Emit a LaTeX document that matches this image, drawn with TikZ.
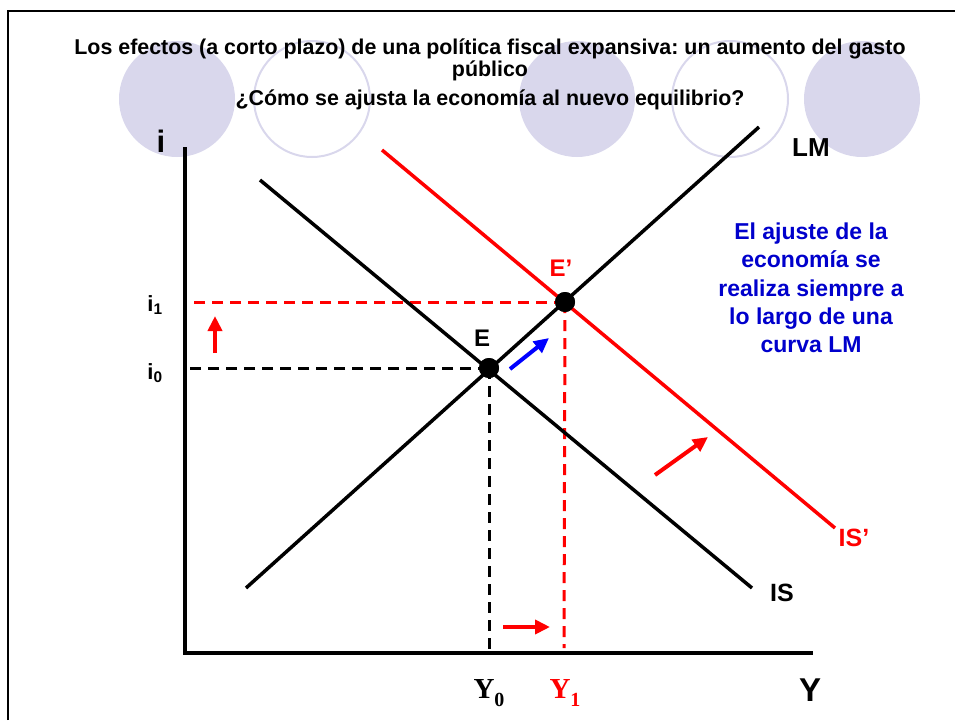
\documentclass[tikz,border=0pt]{standalone}
\usepackage{fontspec}
\setmainfont{Liberation Sans}
\newfontfamily\timesfont{Liberation Serif}
\usetikzlibrary{arrows.meta}
\frenchspacing
\definecolor{burbuja}{RGB}{217,215,236}
\definecolor{azul}{RGB}{0,0,204}
\tikzstyle{curva} = [line width=3.5pt]
\tikzstyle{guia} = [line width=3pt, dash pattern=on 11pt off 7pt]
\tikzstyle{flecha} = [line width=4pt, -{Triangle[length=15pt,width=14pt]}]
\tikzstyle{punto} = [circle, fill=black, inner sep=0pt, minimum size=20pt]
\tikzstyle{etiq} = [inner sep=0pt]
\newcommand{\tam}[1]{\bfseries\fontsize{#1}{#1}\selectfont}
\newcommand{\yval}[1]{{\timesfont\bfseries Y\raisebox{-0.3em}{\fontsize{20}{20}\selectfont #1}}}

\begin{document}
\begin{tikzpicture}[x=1pt, y=-1pt]
        \useasboundingbox (0,0) rectangle (955,720);
        \draw[line width=2pt] (8,720) -- (8,11) -- (955,11);

        \foreach \cx in {177,577,862}
            \fill[burbuja] (\cx,99) circle (58pt);
        \foreach \cx in {312,730}
            \draw[burbuja, line width=2pt] (\cx,99) circle (58pt);

        \node[etiq, align=center, font=\bfseries\fontsize{21.4}{22}\selectfont] (titulo) at (490,60)
            {Los efectos (a corto plazo) de una política fiscal expansiva: un aumento del gasto\\público};
        \node[etiq, font=\bfseries\fontsize{21.4}{22}\selectfont] (pregunta) at (490,100)
            {¿Cómo se ajusta la economía al nuevo equilibrio?};

        \coordinate (origen) at (185,653);
        \coordinate (ejei) at (185,147);
        \coordinate (ejey) at (813,653);
        \coordinate (LMa) at (246,588);
        \coordinate (LMb) at (759,127);
        \coordinate (ISa) at (260,180);
        \coordinate (ISb) at (752,588);
        \coordinate (ISpa) at (382,150);
        \coordinate (ISpb) at (835,528);
        \coordinate (i0) at (186,368);
        \coordinate (i1) at (193,302);
        \coordinate (y0) at (489,653);
        \coordinate (y1) at (564,648);

        \node[punto] (E) at (489,368) {};
        \node[punto] (Ep) at (565,302) {};

        \draw[guia] (E.center) -- (i0);
        \draw[guia] (E.center) -- (y0);
        \draw[guia, red] (Ep.center) -- (i1);
        \draw[guia, red] (Ep.center) -- (y1);

        \draw[line width=4pt] (ejei) -- (origen) -- (ejey);
        \draw[curva] (LMa) -- (LMb);
        \draw[curva] (ISa) -- (ISb);
        \draw[curva, red] (ISpa) -- (ISpb);

        \node[punto] at (E) {};
        \node[punto] at (Ep) {};

        \coordinate (fa) at (215,353);
        \coordinate (fb) at (215,316);
        \coordinate (fc) at (510,369);
        \coordinate (fd) at (549,338);
        \coordinate (fe) at (655,475);
        \coordinate (ff) at (708,437);
        \coordinate (fg) at (503,627);
        \coordinate (fh) at (550,627);
        \draw[flecha, red] (fa) -- (fb);
        \draw[flecha, blue] (fc) -- (fd);
        \draw[flecha, red] (fe) -- (ff);
        \draw[flecha, red] (fg) -- (fh);

        \node[etiq, font=\tam{31}] (ilab) at (161,141) {i};
        \node[etiq, font=\tam{22}] (i1lab) at (155,305) {i\textsubscript{1}};
        \node[etiq, font=\tam{22}] (i0lab) at (155,373) {i\textsubscript{0}};
        \node[etiq, font=\tam{24}] (Elab) at (482,338) {E};
        \node[etiq, font=\tam{24}, red] (Eplab) at (561,268) {E’};
        \node[etiq, font=\tam{26}] (LMlab) at (811,148) {LM};
        \node[etiq, font=\tam{25}] (ISlab) at (782,593) {IS};
        \node[etiq, font=\tam{25}, red] (ISplab) at (854,538) {IS’};
        \node[etiq, font=\tam{33}] (Ylab) at (810,690) {Y};
        \node[etiq, font=\fontsize{29}{29}\selectfont] (Y0lab) at (489,693) {\yval{0}};
        \node[etiq, font=\fontsize{29}{29}\selectfont, red] (Y1lab) at (565,693) {\yval{1}};

        \node[etiq, align=center, text=azul, font=\bfseries\fontsize{23}{28.3}\selectfont] (nota) at (811,288)
            {El ajuste de la\\economía se\\realiza siempre a\\lo largo de una\\curva LM};
    \end{tikzpicture}
\end{document}
